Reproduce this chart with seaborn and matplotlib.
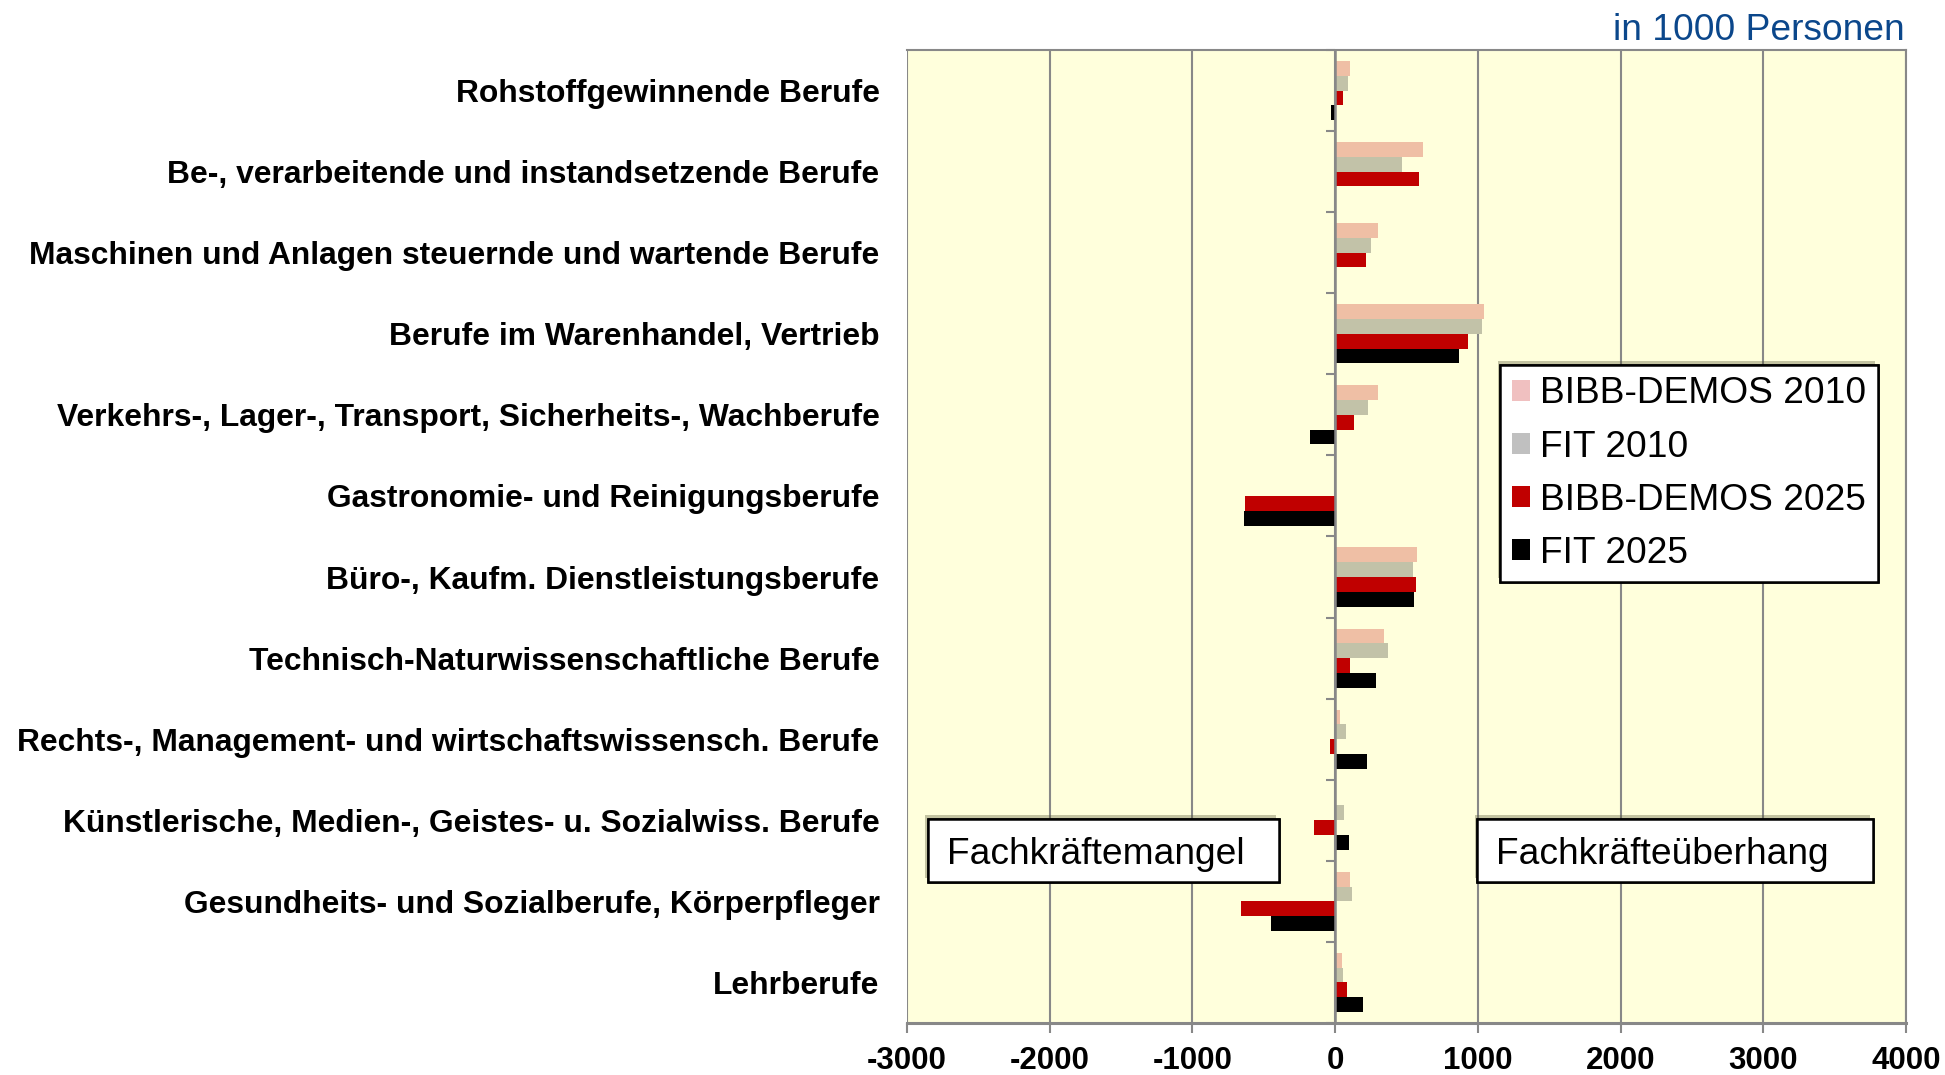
import numpy as np
import pandas as pd
import matplotlib
matplotlib.use("Agg")
import matplotlib.pyplot as plt
import matplotlib.patheffects as pe
from matplotlib.patches import Patch, Rectangle
from matplotlib.ticker import FixedLocator
import seaborn as sns

# ---------------- data ----------------
categories = [
    "Rohstoffgewinnende Berufe",
    "Be-, verarbeitende und instandsetzende Berufe",
    "Maschinen und Anlagen steuernde und wartende Berufe",
    "Berufe im Warenhandel, Vertrieb",
    "Verkehrs-, Lager-, Transport, Sicherheits-, Wachberufe",
    "Gastronomie- und Reinigungsberufe",
    "Büro-, Kaufm. Dienstleistungsberufe",
    "Technisch-Naturwissenschaftliche Berufe",
    "Rechts-, Management- und wirtschaftswissensch. Berufe",
    "Künstlerische, Medien-, Geistes- u. Sozialwiss. Berufe",
    "Gesundheits- und Sozialberufe, Körperpfleger",
    "Lehrberufe",
]
series_names = ["BIBB-DEMOS 2010", "FIT 2010", "BIBB-DEMOS 2025", "FIT 2025"]
bibb_2010 = [105, 614, 297, 1044, 301, 0, 570, 343, 35, 0, 103, 51]
fit_2010 = [89, 467, 248, 1026, 227, 0, 547, 371, 79, 61, 121, 56]
bibb_2025 = [58, 586, 215, 930, 133, -633, 565, 107, -33, -150, -659, 84]
fit_2025 = [-30, 0, 5, 867, -178, -638, 551, 285, 220, 96, -446, 194]
x_ticks = [-3000, -2000, -1000, 0, 1000, 2000, 3000, 4000]

bar_colors = ["#EFBFA5", "#C2C2A8", "#C00000", "#000000"]
legend_colors = ["#F0C0C0", "#C0C0C0", "#C00000", "#000000"]

rows = []
for name, vals in zip(series_names, [bibb_2010, fit_2010, bibb_2025, fit_2025]):
    for cat, v in zip(categories, vals):
        rows.append({"Beruf": cat, "Wert": v, "Serie": name})
df = pd.DataFrame(rows)

# ---------------- style ----------------
sns.set_theme(style="white")
plt.rcParams["font.family"] = ["Liberation Sans", "DejaVu Sans"]
plt.rcParams["text.color"] = "black"
plt.rcParams["xtick.color"] = "black"
plt.rcParams["ytick.color"] = "black"

GREY = "#888888"
fig, ax = plt.subplots(figsize=(19.45, 10.75), dpi=100)
fig.subplots_adjust(left=0.4663, right=0.980, top=0.9535, bottom=0.0484)
ax.set_facecolor("#FFFFDC")

sns.barplot(data=df, y="Beruf", x="Wert", hue="Serie", order=categories,
            hue_order=series_names, palette=bar_colors, orient="h",
            width=0.73, saturation=1, linewidth=0, legend=False, ax=ax,
            errorbar=None)

ax.set_xlim(x_ticks[0], x_ticks[-1])
ax.set_ylim(len(categories) - 0.5, -0.5)
ax.set_xlabel("")
ax.set_ylabel("")

# grid
ax.set_axisbelow(True)
ax.xaxis.set_major_locator(FixedLocator(x_ticks))
ax.grid(axis="x", color=GREY, linewidth=1.5)
ax.grid(axis="y", visible=False)

# spines
for s in ["top", "right", "bottom"]:
    ax.spines[s].set_visible(True)
    ax.spines[s].set_color(GREY)
    ax.spines[s].set_linewidth(1.5)
ax.spines["bottom"].set_linewidth(2.2)
ax.spines["left"].set_position(("data", 0))
ax.spines["left"].set_color(GREY)
ax.spines["left"].set_linewidth(1.8)
ax.spines["left"].set_zorder(5)

# ticks
ax.set_xticks(x_ticks)
ax.set_xticklabels([str(t) for t in x_ticks], fontsize=22.5, fontweight="bold")
ax.tick_params(axis="x", which="major", direction="out", length=7, width=1.5,
               color=GREY, pad=9.5, bottom=True, labelcolor="black")

ax.set_yticks(range(len(categories)))
ax.set_yticklabels(categories, fontsize=22.9, fontweight="bold")
ax.tick_params(axis="y", which="major", length=0, pad=328, left=True,
               labelcolor="black")
ax.yaxis.set_minor_locator(FixedLocator(np.arange(-0.5, len(categories), 1.0)))
ax.tick_params(axis="y", which="minor", direction="out", length=6.7, width=1.5,
               color=GREY, left=True)
for lab in ax.get_yticklabels():
    lab.set_horizontalalignment("right")

# legend
handles = [Patch(facecolor=c, edgecolor="none") for c in legend_colors]
leg = ax.legend(handles, series_names, loc="upper left",
                bbox_to_anchor=(0.594, 0.676), fontsize=26.7, frameon=True,
                fancybox=False, edgecolor="black", framealpha=1,
                handlelength=0.5, handleheight=0.5, handletextpad=0.28,
                labelspacing=0.49, borderpad=0.3, borderaxespad=0,
                labelcolor="black")
leg.get_frame().set_linewidth(1.8)
leg.get_frame().set_path_effects([
    pe.withSimplePatchShadow(offset=(-2, 3), shadow_rgbFace="#555533", alpha=0.35),
    pe.Normal()])

# annotation boxes
def label_box(x0, w, text):
    y0, h = 0.145, 0.0647
    r = Rectangle((x0, y0), w, h, transform=ax.transAxes, facecolor="white",
                  edgecolor="black", linewidth=1.8, zorder=6)
    r.set_path_effects([
        pe.withSimplePatchShadow(offset=(-2, 3), shadow_rgbFace="#555533", alpha=0.35),
        pe.Normal()])
    ax.add_patch(r)
    ax.text(x0 + 0.019, y0 + h / 2 - 0.004, text, transform=ax.transAxes,
            fontsize=26.7, ha="left", va="center", color="black", zorder=7)

label_box(0.021, 0.351, "Fachkräftemangel")
label_box(0.571, 0.396, "Fachkräfteüberhang")

fig.text(0.979, 0.972, "in 1000 Personen", ha="right", va="center",
         fontsize=26.7, color="#0B478B")

fig.savefig("out.png", dpi=100)
